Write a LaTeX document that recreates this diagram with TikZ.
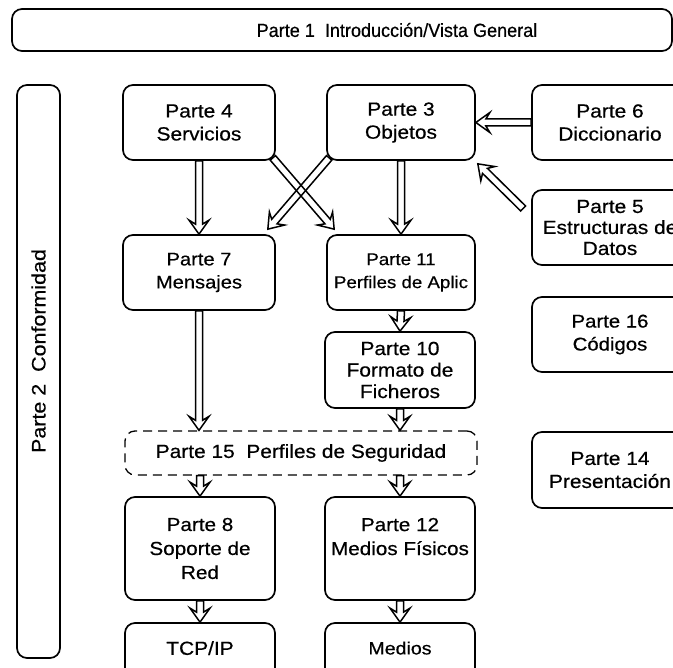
\documentclass[tikz,border=0pt]{standalone}
\usepackage{fontspec}
\setmainfont{Liberation Sans}[FakeStretch=1.1, FakeBold=0.5]
\newfontfamily\narrowsans{Liberation Sans}[FakeStretch=0.95, FakeBold=0.5]
\usetikzlibrary{calc}
% hollow block-arrow geometry
\newcommand\arrShaft{3.5pt}
\newcommand\arrHead{10pt}
\newcommand\arrNeck{10pt}
\newcommand\arrBarb{14pt}
\newcommand\fs[2]{\fontsize{#1}{#2}\selectfont}
\begin{document}
\begin{tikzpicture}[x=1pt,y=-1pt,
  box/.style={draw, line width=1.7pt, rounded corners=10pt, align=center, inner sep=0pt, font=\fs{19}{23}},
  dashbox/.style={box, line width=1.3pt, dash pattern=on 9pt off 6pt},
  hollow/.style={line width=1.5pt, line join=miter, to path={
    ($(\tikztostart)!\arrShaft!90:(\tikztotarget)$)
    -- ($($(\tikztotarget)!\arrNeck!(\tikztostart)$)!\arrShaft!90:(\tikztotarget)$)
    -- ($($(\tikztotarget)!\arrBarb!(\tikztostart)$)!\arrHead!90:(\tikztotarget)$)
    -- (\tikztotarget)
    -- ($($(\tikztotarget)!\arrBarb!(\tikztostart)$)!\arrHead!-90:(\tikztotarget)$)
    -- ($($(\tikztotarget)!\arrNeck!(\tikztostart)$)!\arrShaft!-90:(\tikztotarget)$)
    -- ($(\tikztostart)!\arrShaft!-90:(\tikztotarget)$) -- cycle}}
]
\clip (0,0) rectangle (673,668);

% frame boxes (titles sit off-centre along the band)
\node[box, minimum width=660pt, minimum height=42pt, font=\narrowsans\fs{19}{22}] (p1) at (342,30) {\hspace*{110pt}Parte 1\ \ Introducción/Vista General};
\node[box, rotate=90, minimum width=573pt, minimum height=43pt, font=\fs{19.5}{23}] (p2) at (38.5,371.5) {\hspace*{41pt}Parte 2\ \ Conformidad};

% first row
\node[box, minimum width=152pt, minimum height=75pt] (p4) at (199,122.5) {Parte 4\\Servicios};
\node[box, minimum width=148pt, minimum height=75pt] (p3) at (401,122.5) {Parte 3\\Objetos};
\node[box, minimum width=156pt, minimum height=75pt] (p6) at (610,122.5) {Parte 6\\Diccionario};

% second row
\node[box, minimum width=156pt, minimum height=75pt, font=\fs{19}{21}] (p5) at (610,227.5) {Parte 5\\Estructuras de\\Datos};
\node[box, minimum width=152pt, minimum height=75pt, font=\fs{18.3}{23}] (p7) at (199,272.5) {Parte 7\\Mensajes};
\node[box, minimum width=148pt, minimum height=75pt, font=\fs{17}{23}] (p11) at (401,272.5) {Parte 11\\Perfiles de Aplic};

% third row
\node[box, minimum width=156pt, minimum height=75pt, font=\fs{18.5}{23}] (p16) at (610,334.5) {Parte 16\\Códigos};
\node[box, minimum width=150pt, minimum height=76pt, font=\fs{19}{21.5}] (p10) at (400,370) {Parte 10\\Formato de\\Ficheros};

% security profile band
\node[dashbox, minimum width=352pt, minimum height=44pt, font=\fs{19}{23}] (p15) at (301,453) {Parte 15\ \ Perfiles de Seguridad};
\node[box, minimum width=156pt, minimum height=76pt] (p14) at (610,470) {Parte 14\\Presentación};

% lower rows
\node[box, minimum width=150pt, minimum height=103pt, font=\fs{18.8}{24}] (p8) at (200,548.5) {Parte 8\\Soporte de\\Red};
\node[box, minimum width=150pt, minimum height=103pt, font=\fs{18.8}{24}] (p12) at (400,548.5) {Parte 12\\Medios Físicos\\\mbox{}};
\node[box, minimum width=150pt, minimum height=60pt, text depth=10pt] (tcp) at (200,653) {TCP/IP};
\node[box, minimum width=150pt, minimum height=60pt, text depth=10pt, font=\fs{17.8}{23}] (med) at (400,653) {Medios};

% dependencies
\draw[hollow] (p4.south) to (p7.north);
\draw[hollow] (p3.south) to (p11.north);
\draw[hollow] ($(p4.south east)+(-3,-3)$) to ($(p11.north west)+(8,-5)$);
\draw[hollow] ($(p3.south west)+(3,-3)$) to ($(p7.north east)+(-8,-5)$);
\draw[hollow] (p6.west) to (p3.east);
\draw[hollow] ($(p5.west)+(-8,-19)$) to ($(p3.south east)+(2,3)$);
\draw[hollow] (p11.south) to (p10.north);
\draw[hollow] (p7.south) to (p7.south |- p15.north);
\draw[hollow] (p10.south) to (p10.south |- p15.north);
\draw[hollow] (p8.north |- p15.south) to (p8.north);
\draw[hollow] (p12.north |- p15.south) to (p12.north);
\draw[hollow] (p8.south) to (tcp.north);
\draw[hollow] (p12.south) to (med.north);
\end{tikzpicture}
\end{document}
